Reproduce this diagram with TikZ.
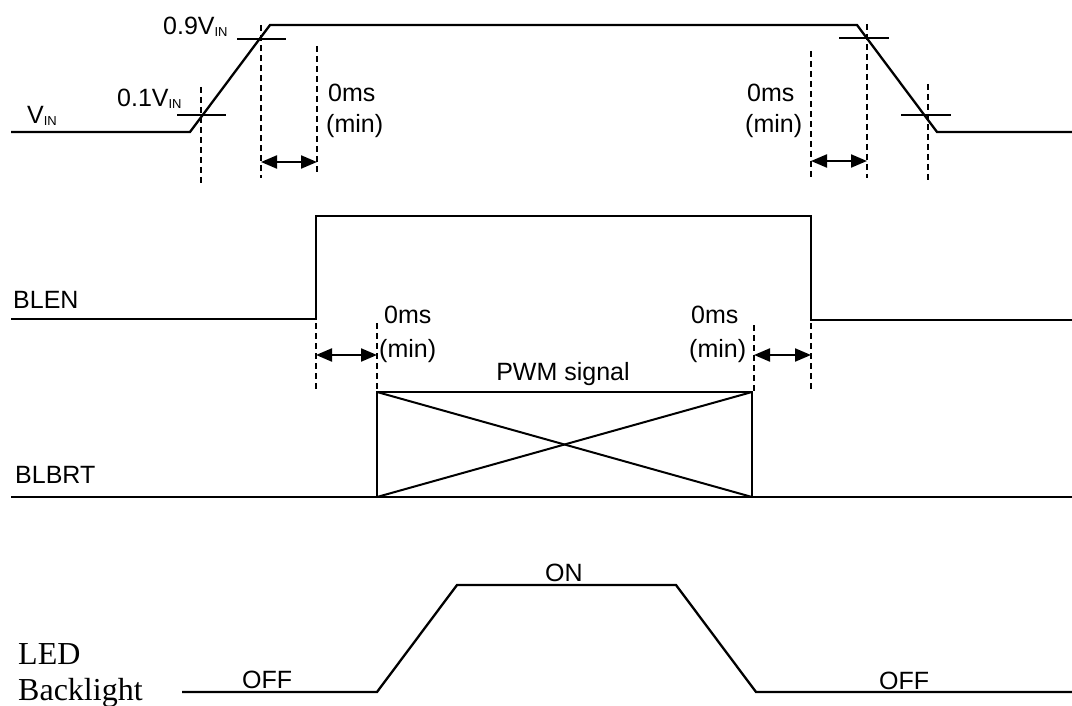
\documentclass[tikz,border=0pt]{standalone}
\usepackage{fontspec}
\newfontfamily\lab{Liberation Sans}
\newfontfamily\serlab{Liberation Serif}
\usetikzlibrary{arrows.meta}
\newcommand\vinsub{V\raisebox{-1.5pt}{\fontsize{13}{13}\selectfont IN}}
\begin{document}
\begin{tikzpicture}[x=1pt,y=-1pt,
  sig/.style={line width=2.3pt, line join=miter},
  guide/.style={line width=1.6pt, dash pattern=on 6pt off 4pt},
  tickln/.style={line width=2.2pt},
  spanarr/.style={line width=2.2pt, {Triangle[length=16pt,width=13pt]}-{Triangle[length=16pt,width=13pt]}},
  lbl/.style={font=\lab\fontsize{25}{25}\selectfont, inner sep=0pt, anchor=base west},
  ser/.style={font=\serlab\fontsize{32}{32}\selectfont, inner sep=0pt, anchor=base west}]
\useasboundingbox[fill=white] (0,0) rectangle (1072,706);

% ---------- V_IN ----------
\coordinate (v0) at (11,132);
\coordinate (v1) at (190,132);
\coordinate (v2) at (270,25);
\coordinate (v3) at (857,25);
\coordinate (v4) at (937,132);
\coordinate (v5) at (1072,132);
\draw[sig] (v0) -- (v1) -- (v2) -- (v3) -- (v4) -- (v5);

\coordinate (t1a) at (177,115); \coordinate (t1b) at (226,115);
\coordinate (t9a) at (237,39);  \coordinate (t9b) at (286,39);
\coordinate (t9c) at (839,38);  \coordinate (t9d) at (889,38);
\coordinate (t1c) at (901,115); \coordinate (t1d) at (951,115);
\draw[tickln] (t1a) -- (t1b);
\draw[tickln] (t9a) -- (t9b);
\draw[tickln] (t9c) -- (t9d);
\draw[tickln] (t1c) -- (t1d);

\coordinate (d1t) at (201,87);  \coordinate (d1b) at (201,183);
\coordinate (d2t) at (261,25);  \coordinate (d2b) at (261,178);
\coordinate (d3t) at (317,46);  \coordinate (d3b) at (317,173);
\coordinate (d4t) at (811,51);  \coordinate (d4b) at (811,178);
\coordinate (d5t) at (867,24);  \coordinate (d5b) at (867,178);
\coordinate (d6t) at (928,84);  \coordinate (d6b) at (928,183);
\foreach \d in {1,...,6} \draw[guide] (d\d t) -- (d\d b);

\coordinate (a1l) at (261,162); \coordinate (a1r) at (317,162);
\coordinate (a2l) at (811,161); \coordinate (a2r) at (867,161);
\draw[spanarr] (a1l) -- (a1r);
\draw[spanarr] (a2l) -- (a2r);

\node[lbl] (lvin) at (27,124) {\vinsub};
\node[lbl] (l09) at (163,35) {0.9\vinsub};
\node[lbl] (l01) at (117,107) {0.1\vinsub};
\node[lbl] (m1a) at (328,102) {0ms};
\node[lbl] (m1b) at (326,133) {(min)};
\node[lbl] (m2a) at (747,102) {0ms};
\node[lbl] (m2b) at (745,133) {(min)};

% ---------- BLEN ----------
\coordinate (b0) at (11,319);
\coordinate (b1) at (316,319);
\coordinate (b2) at (316,216);
\coordinate (b3) at (811,216);
\coordinate (b4) at (811,320);
\coordinate (b5) at (1072,320);
\draw[sig] (b0) -- (b1) -- (b2) -- (b3) -- (b4) -- (b5);
\node[lbl] (lblen) at (13,308) {BLEN};

\coordinate (e1t) at (316,323); \coordinate (e1b) at (316,390);
\coordinate (e2t) at (377,323); \coordinate (e2b) at (377,392);
\coordinate (e3t) at (754,325); \coordinate (e3b) at (754,392);
\coordinate (e4t) at (811,323); \coordinate (e4b) at (811,390);
\foreach \d in {1,...,4} \draw[guide] (e\d t) -- (e\d b);

\coordinate (a3l) at (316,355); \coordinate (a3r) at (377,355);
\coordinate (a4l) at (754,355); \coordinate (a4r) at (811,355);
\draw[spanarr] (a3l) -- (a3r);
\draw[spanarr] (a4l) -- (a4r);

\node[lbl] (m3a) at (384,323) {0ms};
\node[lbl] (m3b) at (379,357) {(min)};
\node[lbl] (m4a) at (691,323) {0ms};
\node[lbl] (m4b) at (689,357) {(min)};
\node[lbl, anchor=base] (pwm) at (563,380) {PWM signal};

% ---------- BLBRT ----------
\coordinate (r0) at (11,497);
\coordinate (r1) at (1072,497);
\draw[sig] (r0) -- (r1);
\coordinate (p1) at (377,392);
\coordinate (p2) at (752,392);
\coordinate (p3) at (752,497);
\coordinate (p4) at (377,497);
\draw[line width=2pt] (p1) -- (p2) -- (p3) -- (p4) -- cycle;
\draw[line width=2pt] (p1) -- (p3);
\draw[line width=2pt] (p2) -- (p4);
\node[lbl] (lblbrt) at (15,483) {BLBRT};

% ---------- LED Backlight ----------
\coordinate (l0) at (182,692);
\coordinate (l1) at (377,692);
\coordinate (l2) at (457,585);
\coordinate (l3) at (676,585);
\coordinate (l4) at (756,692);
\coordinate (l5) at (1072,692);
\draw[sig] (l0) -- (l1) -- (l2) -- (l3) -- (l4) -- (l5);
\node[lbl] (off1) at (242,688) {OFF};
\node[lbl] (on) at (545,581) {ON};
\node[lbl] (off2) at (879,689) {OFF};
\node[ser] (led1) at (18,664) {LED};
\node[ser] (led2) at (18,700) {Backlight};
\end{tikzpicture}
\end{document}
